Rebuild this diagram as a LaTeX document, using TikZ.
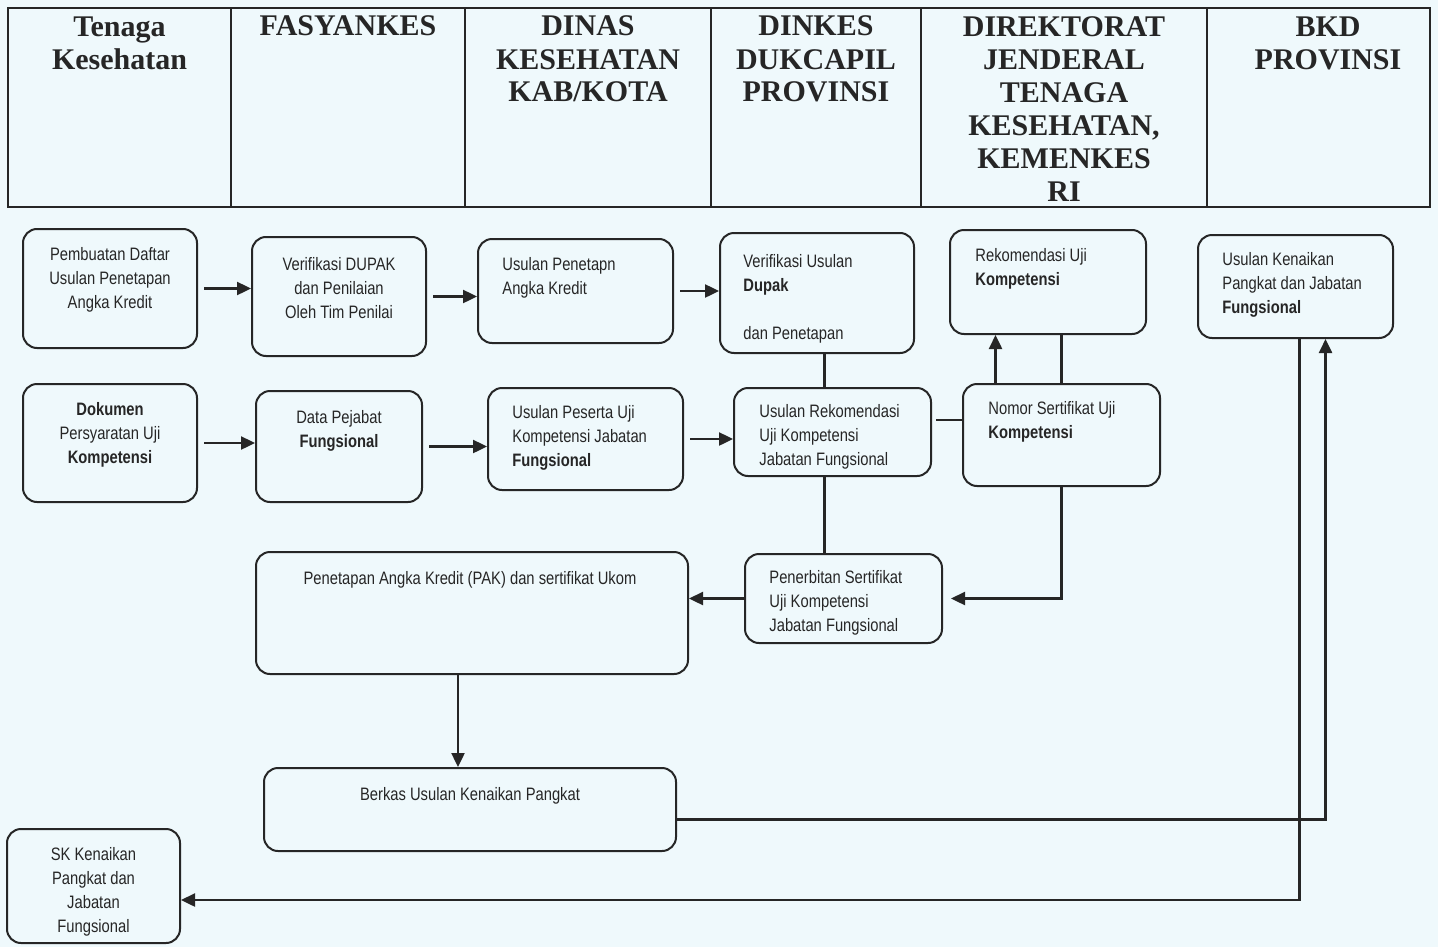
\documentclass[tikz,border=0pt]{standalone}
\usepackage{fontspec}
\setmainfont{Liberation Serif}
\newfontfamily\boxfont[FakeStretch=0.82]{Liberation Sans}
\usetikzlibrary{arrows.meta}
\definecolor{paper}{RGB}{239,249,252}
\definecolor{ink}{RGB}{38,38,38}

\begin{document}
\begin{tikzpicture}
  [x=0.5pt,y=-0.5pt,
   every node/.style={inner sep=0pt},
   box/.style={draw=ink,line width=1pt,rounded corners=7pt},
   txt/.style={font=\boxfont\fontsize{9pt}{12pt}\selectfont,align=left,anchor=base west,text=ink},
   ctxt/.style={txt,align=center,anchor=base},
   head/.style={font=\bfseries\fontsize{15pt}{16.5pt}\selectfont,align=center,anchor=base,text=ink},
   arr/.style={draw=ink,line width=1.2pt,-{Triangle[length=7pt,width=6.5pt]}},
   link/.style={draw=ink,line width=1.2pt}]
  \fill[paper] (0,0) rectangle (1438,947);
  \useasboundingbox (0,0) rectangle (1438,947);

  % header table (text nodes sit on the baseline of their last line)
  \draw[ink,line width=1pt] (8,8) rectangle (1430,207);
  \foreach \x in {231,465,711,921,1207}
    \draw[ink,line width=1pt] (\x,8) -- (\x,207);
  \node[head] (h1) at (119.5,69) {Tenaga\\Kesehatan};
  \node[head] (h2) at (348,36) {FASYANKES};
  \node[head] (h3) at (588,102) {DINAS\\KESEHATAN\\KAB/KOTA};
  \node[head] (h4) at (816,102) {DINKES\\DUKCAPIL\\PROVINSI};
  \node[head] (h5) at (1064,201) {DIREKTORAT\\JENDERAL\\TENAGA\\KESEHATAN,\\KEMENKES\\RI};
  \node[head] (h6) at (1328,69) {BKD\\PROVINSI};

  % boxes
  \node[box,minimum width=87pt,minimum height=59.5pt] (a1) at (110,288.5) {};
  \node[box,minimum width=87pt,minimum height=59.5pt] (a2) at (339,296.5) {};
  \node[box,minimum width=97.5pt,minimum height=52pt] (a3) at (575.5,291) {};
  \node[box,minimum width=97pt,minimum height=60pt] (a4) at (817,293) {};
  \node[box,minimum width=98pt,minimum height=52pt] (a5) at (1048,282) {};
  \node[box,minimum width=97.5pt,minimum height=51.5pt] (a6) at (1295.5,286.5) {};
  \node[box,minimum width=87pt,minimum height=59pt] (b1) at (110,443) {};
  \node[box,minimum width=83pt,minimum height=55.5pt] (b2) at (339,446.5) {};
  \node[box,minimum width=97.5pt,minimum height=51pt] (b3) at (585.5,439) {};
  \node[box,minimum width=98.5pt,minimum height=44pt] (b4) at (832.5,432) {};
  \node[box,minimum width=98.5pt,minimum height=51pt] (b5) at (1061.5,435) {};
  \node[box,minimum width=216pt,minimum height=61pt] (c1) at (472,613) {};
  \node[box,minimum width=98.5pt,minimum height=44.5pt] (c2) at (843.5,598.5) {};
  \node[box,minimum width=206pt,minimum height=41.5pt] (d1) at (470,809.5) {};
  \node[box,minimum width=86.5pt,minimum height=57pt] (e1) at (93.5,886) {};

  % texts
  \node[ctxt] (a1t) at (110,308) {Pembuatan Daftar\\Usulan Penetapan\\Angka Kredit};
  \node[ctxt] (a2t) at (339,318) {Verifikasi DUPAK\\dan Penilaian\\Oleh Tim Penilai};
  \node[txt] (a3t) at (502,294) {Usulan Penetapn\\Angka Kredit};
  \node[txt] (a4t) at (743,339) {Verifikasi Usulan\\\textbf{Dupak}\\~\\dan Penetapan};
  \node[txt] (a5t) at (975,285) {Rekomendasi Uji\\\textbf{Kompetensi}};
  \node[txt] (a6t) at (1222,313) {Usulan Kenaikan\\Pangkat dan Jabatan\\\textbf{Fungsional}};
  \node[ctxt] (b1t) at (110,463) {\textbf{Dokumen}\\Persyaratan Uji\\\textbf{Kompetensi}};
  \node[ctxt] (b2t) at (339,447) {Data Pejabat\\\textbf{Fungsional}};
  \node[txt] (b3t) at (512,466) {Usulan Peserta Uji\\Kompetensi Jabatan\\\textbf{Fungsional}};
  \node[txt] (b4t) at (759,465) {Usulan Rekomendasi\\Uji Kompetensi\\Jabatan Fungsional};
  \node[txt] (b5t) at (988,438) {Nomor Sertifikat Uji\\\textbf{Kompetensi}};
  \node[ctxt] (c1t) at (470,584) {Penetapan Angka Kredit (PAK) dan sertifikat Ukom};
  \node[txt] (c2t) at (769,631) {Penerbitan Sertifikat\\Uji Kompetensi\\Jabatan Fungsional};
  \node[ctxt] (d1t) at (470,800) {Berkas Usulan Kenaikan Pangkat};
  \node[ctxt] (e1t) at (93.5,932) {SK Kenaikan\\Pangkat dan\\Jabatan\\Fungsional};

  % connectors
  \foreach \from/\to in {a1/a2,a2/a3,a3/a4,b1/b2,b2/b3,b3/b4}
    \draw[arr,shorten <=3pt] (\from.east) -- (\from.east -| \to.west);
  \draw[arr] (c2.west) -- (c2.west -| c1.east);
  \draw[link] ([xshift=-4pt]b4.north |- a4.south) -- ([xshift=-4pt]b4.north);
  \draw[link] ([xshift=-4pt]b4.south) -- ([xshift=-4pt]b4.south |- c2.north);
  \draw[link,shorten <=2pt] ([yshift=6pt]b4.east) -- ([yshift=6pt]b4.east -| b5.west);
  \draw[arr] ([xshift=-33pt]b5.north) -- ([xshift=-33pt]b5.north |- a5.south);
  \draw[link] (a5.south -| b5.north) -- (b5.north);
  \draw[arr,shorten >=4pt] (b5.south) |- (c2.east);
  \draw[arr] ([xshift=-7pt]c1.south) -- ([xshift=-7pt]c1.south |- d1.north);
  \draw[arr] ([yshift=-5pt]d1.east) -| ([xshift=15pt]a6.south);
  \draw[arr] ([xshift=2pt]a6.south) |- ([yshift=-7pt]e1.east);
\end{tikzpicture}
\end{document}
